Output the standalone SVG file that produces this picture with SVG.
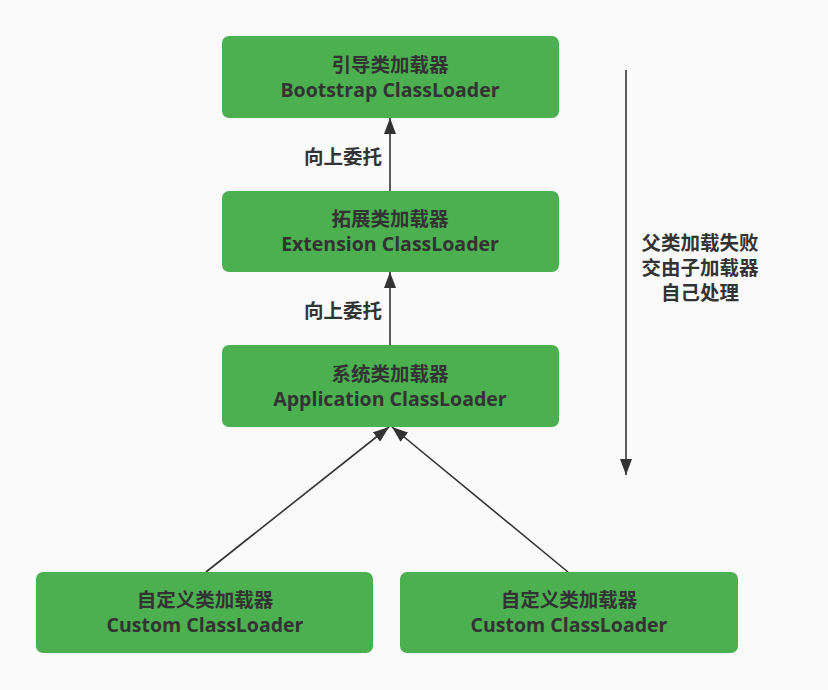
<svg xmlns="http://www.w3.org/2000/svg" width="828" height="690" viewBox="0 0 828 690">
<style>
.box{fill:#4caf50;}
.t{font-family:"Open Sans","Noto Sans CJK SC",sans-serif;font-weight:bold;font-size:19.5px;fill:#333;text-anchor:middle;}
.c{stroke:#333;stroke-width:1.6;fill:none;}
</style>
<defs>
<marker id="ah2" viewBox="0 0 16 12" refX="16" refY="6" markerWidth="16" markerHeight="12" markerUnits="userSpaceOnUse" orient="auto">
<path d="M0,0 L16,6 L0,12 Z" fill="#333"/>
</marker>
</defs>
<rect width="828" height="690" fill="#fafafa"/>
<g id="connectors">
<line class="c" x1="390" y1="191" x2="390" y2="118" marker-end="url(#ah2)"/>
<line class="c" x1="390" y1="345" x2="390" y2="272" marker-end="url(#ah2)"/>
<line class="c" x1="206" y1="572" x2="389" y2="427" marker-end="url(#ah2)"/>
<line class="c" x1="568" y1="572" x2="392" y2="427" marker-end="url(#ah2)"/>
<line class="c" x1="626" y1="70" x2="626" y2="475" stroke-width="2" marker-end="url(#ah2)"/>
<text class="t" x="343" y="164">向上委托</text>
<text class="t" x="343" y="318">向上委托</text>
</g>
<g id="note">
<text class="t" x="700" y="250">父类加载失败</text>
<text class="t" x="700" y="275">交由子加载器</text>
<text class="t" x="700" y="300">自己处理</text>
</g>
<g id="bootstrap">
<rect class="box" x="222" y="36" width="337" height="82" rx="7"/>
<text class="t" x="390" y="72">引导类加载器</text>
<text class="t" x="390" y="97">Bootstrap ClassLoader</text>
</g>
<g id="extension">
<rect class="box" x="222" y="191" width="337" height="81" rx="7"/>
<text class="t" x="390" y="226">拓展类加载器</text>
<text class="t" x="390" y="251">Extension ClassLoader</text>
</g>
<g id="application">
<rect class="box" x="222" y="345" width="337" height="82" rx="7"/>
<text class="t" x="390" y="381">系统类加载器</text>
<text class="t" x="390" y="406">Application ClassLoader</text>
</g>
<g id="custom1">
<rect class="box" x="36" y="572" width="337" height="81" rx="7"/>
<text class="t" x="205" y="607">自定义类加载器</text>
<text class="t" x="205" y="632">Custom ClassLoader</text>
</g>
<g id="custom2">
<rect class="box" x="400" y="572" width="338" height="81" rx="7"/>
<text class="t" x="569" y="607">自定义类加载器</text>
<text class="t" x="569" y="632">Custom ClassLoader</text>
</g>
</svg>
